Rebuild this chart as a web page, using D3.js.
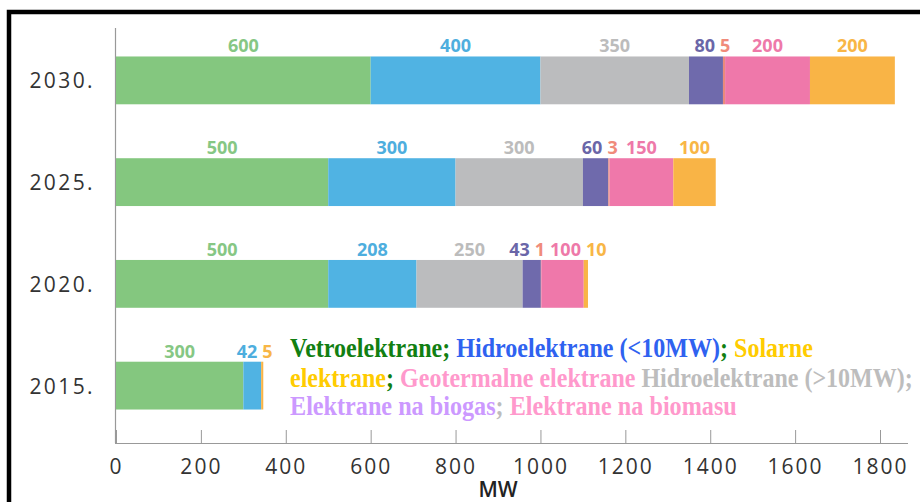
<!DOCTYPE html>
<html>
<head>
<meta charset="utf-8">
<script src="https://cdn.jsdelivr.net/npm/d3@7"></script>
<style>
  html, body { margin: 0; padding: 0; background: #fff; }
  svg { display: block; }
</style>
</head>
<body>
<div id="chart"></div>
<script>
// ---------------------------------------------------------------------------
// Data

const years = ['2030.', '2025.', '2020.', '2015.'];

// installed capacity in MW, one array per plant type (same order as years)
const wind = [600, 500, 500, 300];
const hydroSmall = [400, 300, 208, 42];
const hydroLarge = [350, 300, 250, 0];
const biogas = [80, 60, 43, 0];
const geothermal = [5, 3, 1, 0];
const biomass = [200, 150, 100, 0];
const solar = [200, 100, 10, 5];

const xTicks = [0, 200, 400, 600, 800, 1000, 1200, 1400, 1600, 1800];
const axisTitle = 'MW';

// legend pieces: [text, colour], one list per line
const legendLines = [
  [['Vetroelektrane;', '#127f12'], [' Hidroelektrane (<10MW)', '#2f62f0'], ['; ', '#127f12'], ['Solarne', '#ffcc00']],
  [['elektrane', '#ffcc00'], ['; ', '#127f12'], ['Geotermalne elektrane ', '#ff99cc'], ['Hidroelektrane (>10MW);', '#bdbdbd']],
  [['Elektrane na biogas', '#cc99ff'], ['; ', '#bdbdbd'], ['Elektrane na biomasu', '#ff99cc']]
];

// ---------------------------------------------------------------------------
// Series set-up

const series = [
  {key: 'wind', values: wind, color: '#84c77f', label: '#86c784'},
  {key: 'hydroSmall', values: hydroSmall, color: '#50b3e3', label: '#4eaede'},
  {key: 'hydroLarge', values: hydroLarge, color: '#bbbcbe', label: '#bcbcbc'},
  {key: 'biogas', values: biogas, color: '#6f6aac', label: '#6a66a8'},
  {key: 'geothermal', values: geothermal, color: '#ea8a7c', label: '#f08b7b'},
  {key: 'biomass', values: biomass, color: '#ef78aa', label: '#ee79a9'},
  {key: 'solar', values: solar, color: '#f9b446', label: '#f8b646'}
];

const rows = years.map((y, i) => {
  const row = {year: y};
  series.forEach(s => { row[s.key] = s.values[i]; });
  return row;
});

const stacked = d3.stack().keys(series.map(s => s.key))(rows);

// ---------------------------------------------------------------------------
// Drawing

const width = 920;
const height = 502;

const svg = d3.select('#chart').append('svg')
  .attr('width', width)
  .attr('height', height);

// black frame (runs off the right and bottom edges)
svg.append('rect')
  .attr('x', 9).attr('y', 12)
  .attr('width', 1000).attr('height', 600)
  .attr('fill', 'none')
  .attr('stroke', '#000')
  .attr('stroke-width', 4.5);

const x = d3.scaleLinear().domain([0, 1800]).range([116, 880]);

const y = d3.scaleBand()
  .domain(years)
  .range([29, 437])
  .paddingInner(0.53)
  .paddingOuter(0.27);

// axis lines
const axisY = 443;
svg.append('line')
  .attr('x1', 115.5).attr('x2', 115.5)
  .attr('y1', 28).attr('y2', axisY)
  .attr('stroke', '#999').attr('stroke-width', 1.2);

const xAxis = d3.axisBottom(x)
  .tickValues(xTicks)
  .tickSize(0)
  .tickPadding(0)
  .tickFormat(d3.format('d'));

const gx = svg.append('g')
  .attr('transform', `translate(0,${axisY})`)
  .call(xAxis);
gx.select('.domain')
  .attr('d', `M115,0.5H908`)
  .attr('stroke', '#999').attr('stroke-width', 1.2);
gx.selectAll('.tick line')
  .attr('y1', 0).attr('y2', -13)
  .attr('stroke', '#999').attr('stroke-width', 1);
gx.selectAll('.tick text')
  .attr('y', 31)
  .attr('dy', 0)
  .attr('fill', '#333')
  .style('font-family', '"Open Sans", sans-serif')
  .style('font-size', '21px')
  .style('letter-spacing', '2px');

svg.append('text')
  .attr('x', 498).attr('y', 497)
  .attr('text-anchor', 'middle')
  .attr('fill', '#222')
  .style('font-family', '"Open Sans", sans-serif')
  .style('font-size', '21px')
  .style('font-weight', 600)
  .text(axisTitle);

// year labels
svg.append('g').selectAll('text')
  .data(years)
  .enter()
  .append('text')
  .attr('x', 95)
  .attr('y', d => y(d) + y.bandwidth() / 2 + 8)
  .attr('text-anchor', 'end')
  .attr('fill', '#333')
  .style('font-family', '"Open Sans", sans-serif')
  .style('font-size', '21px')
  .style('letter-spacing', '2.4px')
  .text(d => d);

// bars
const layers = svg.append('g').selectAll('g')
  .data(stacked)
  .enter()
  .append('g')
  .attr('fill', (d, i) => series[i].color);

layers.selectAll('rect')
  .data(d => d)
  .enter()
  .append('rect')
  .attr('x', d => x(d[0]))
  .attr('y', d => y(d.data.year))
  .attr('width', d => Math.max(0, x(d[1]) - x(d[0])))
  .attr('height', y.bandwidth());

// value labels above each bar, nudged apart where they would touch
const labelGroup = svg.append('g')
  .style('font-family', '"Open Sans", sans-serif')
  .style('font-size', '18px')
  .style('font-weight', 700)
  .attr('text-anchor', 'middle');

years.forEach((yr, i) => {
  const items = [];
  stacked.forEach((layer, k) => {
    const d = layer[i];
    const v = d[1] - d[0];
    if (!v) return;
    const t = labelGroup.append('text')
      .attr('y', y(yr) - 4)
      .attr('fill', series[k].label)
      .text(v);
    items.push({node: t, cx: x((d[0] + d[1]) / 2), w: t.node().getComputedTextLength()});
  });
  const gap = 5;
  for (let iter = 0; iter < 60; iter++) {
    for (let j = 1; j < items.length; j++) {
      const a = items[j - 1];
      const b = items[j];
      const overlap = (a.cx + a.w / 2 + gap) - (b.cx - b.w / 2);
      if (overlap > 0) {
        a.cx -= overlap / 2;
        b.cx += overlap / 2;
      }
    }
  }
  items.forEach(it => it.node.attr('x', it.cx));
});

// legend text (bold serif, squeezed to the width it has in the picture)
const legendX = 290;
const legendBase = [357, 387, 415];
const legendWidth = [523, 623, 447];

legendLines.forEach((line, i) => {
  const t = svg.append('text')
    .attr('x', 0)
    .attr('y', 0)
    .style('font-family', '"Liberation Serif", "Times New Roman", serif')
    .style('font-size', '28px')
    .style('font-weight', 700);
  line.forEach(p => {
    t.append('tspan').attr('fill', p[1]).text(p[0]);
  });
  const natural = t.node().getComputedTextLength();
  const sx = legendWidth[i] / natural;
  t.attr('transform', `translate(${legendX},${legendBase[i]}) scale(${sx},1)`);
});
</script>
</body>
</html>
